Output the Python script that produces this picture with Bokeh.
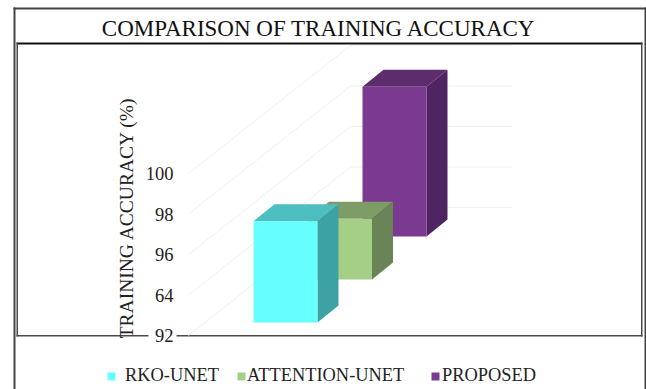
from bokeh.plotting import figure
from bokeh.models import BoxAnnotation, FixedTicker, Label, Legend, LegendItem, Range1d
from bokeh.embed import file_html
from bokeh.resources import INLINE

# Training accuracy per model
models = ["RKO-UNET", "ATTENTION-UNET", "PROPOSED"]
accuracy = [97.0, 95.0, 99.4]
front_colors = ["#66FFFF", "#A5CE87", "#7B3A90"]
top_colors = ["#4DBFC0", "#7C9B65", "#5C2C6C"]
side_colors = ["#3EA2A4", "#6A8457", "#4E2560"]

# Value axis; the second label reads 64 on this chart
tick_values = [92, 94, 96, 98, 100]
tick_labels = {92: "92", 94: "64", 96: "96", 98: "98", 100: "100"}

W, H = 646, 389
LEFT = 188
UNIT = 20.25            # pixels per accuracy point
BASE_PX = 335           # pixel row of the value 92

# Oblique projection of the chart box
WALL_DX, WALL_DY = 162, 128 / UNIT
SERIES_DX, SERIES_DY = 54.5, 43 / UNIT
BAR_X0, BAR_W = 253, 64
BAR_FLOOR = 92 + 13 / UNIT
DEPTH_DX, DEPTH_DY = 21, 17 / UNIT
GRID_END = 512

p = figure(
    width=W, height=H, output_backend="svg", toolbar_location=None,
    x_range=Range1d(0, W),
    y_range=Range1d(92 - (H - BASE_PX) / UNIT, 92 + BASE_PX / UNIT),
    min_border_left=0, min_border_right=0, min_border_top=0, min_border_bottom=0,
    outline_line_color=None, background_fill_color="white", border_fill_color="white",
)
p.xaxis.visible = False
p.xgrid.visible = False
p.ygrid.visible = False

# Floor-to-wall gridlines
grid_xs = [[LEFT, LEFT + WALL_DX, GRID_END] for _ in tick_values]
grid_ys = [[v, v + WALL_DY, v + WALL_DY] for v in tick_values]
p.multi_line(grid_xs, grid_ys, line_color="#EFEFEF", line_width=1)

# Bars, furthest first so nearer ones overlap them
renderers = {}
for i in reversed(range(len(models))):
    x0 = BAR_X0 + i * SERIES_DX
    x1 = x0 + BAR_W
    floor = BAR_FLOOR + i * SERIES_DY
    top = floor + accuracy[i] - 92
    p.patch([x0, x1, x1 + DEPTH_DX, x0 + DEPTH_DX],
            [top, top, top + DEPTH_DY, top + DEPTH_DY],
            fill_color=top_colors[i], line_color=None)
    p.patch([x1, x1 + DEPTH_DX, x1 + DEPTH_DX, x1],
            [floor, floor + DEPTH_DY, top + DEPTH_DY, top],
            fill_color=side_colors[i], line_color=None)
    renderers[i] = p.quad(left=x0, right=x1, bottom=floor, top=top,
                          fill_color=front_colors[i], line_color=None)

# Value axis, pinned inside the frame next to the chart box
ax = p.yaxis[0]
ax.fixed_location = LEFT
ax.ticker = FixedTicker(ticks=tick_values)
ax.bounds = (92, 92 + 2 * 118 / UNIT)
ax.major_label_overrides = tick_labels
ax.major_label_text_font = "Liberation Serif"
ax.major_label_text_font_size = "18.5px"
ax.major_label_text_color = "#222222"
ax.major_label_standoff = 9
ax.major_tick_line_color = None
ax.minor_tick_line_color = None
ax.axis_line_color = None
ax.axis_label = "TRAINING ACCURACY (%)"
ax.axis_label_text_font = "Liberation Serif"
ax.axis_label_text_font_style = "normal"
ax.axis_label_text_font_size = "19.5px"
ax.axis_label_text_color = "#222222"
ax.axis_label_standoff = 6


def rule(left, right, top, bottom, color):
    # Frame rules given as pixel rows from the top of the page
    p.add_layout(BoxAnnotation(left=left, right=right, top=H - top, bottom=H - bottom,
                               left_units="screen", right_units="screen",
                               top_units="screen", bottom_units="screen",
                               fill_color=color, fill_alpha=1, line_color=None,
                               level="underlay"))


# Outer frame
for box in [(13, 646, 7, 9), (13, 15, 7, 389), (644, 646, 7, 389)]:
    rule(*box, "#444444")
# Inner frame: heavy top edge, lighter sides, bottom edge broken by the 92 label
for box in [(16, 642, 42, 44)]:
    rule(*box, "#111111")
for box in [(16, 17.5, 42, 336), (640.5, 642, 42, 336),
            (16, 148, 334.5, 336), (176, 642, 334.5, 336)]:
    rule(*box, "#4A4A4A")

p.add_layout(Label(x=318.5, y=H - 28, x_units="screen", y_units="screen",
                   text="COMPARISON OF TRAINING ACCURACY",
                   text_font="Liberation Serif", text_font_size="23px",
                   text_color="#111111", text_align="center", text_baseline="middle"))

# One legend per series so each key keeps its own gap to its label
legend_spots = [(106, 9), (236, 1), (430, 2)]
for i, (lx, gap) in enumerate(legend_spots):
    leg = Legend(items=[LegendItem(label=models[i], renderers=[renderers[i]])],
                 location=(lx, 3), orientation="horizontal",
                 background_fill_alpha=0, border_line_color=None,
                 margin=0, padding=0, glyph_width=10, glyph_height=10,
                 label_standoff=gap, label_height=18,
                 label_text_font="Liberation Serif", label_text_font_size="18.4px",
                 label_text_color="#222222")
    p.add_layout(leg, "center")

open("out.html", "w").write(file_html(p, INLINE))
